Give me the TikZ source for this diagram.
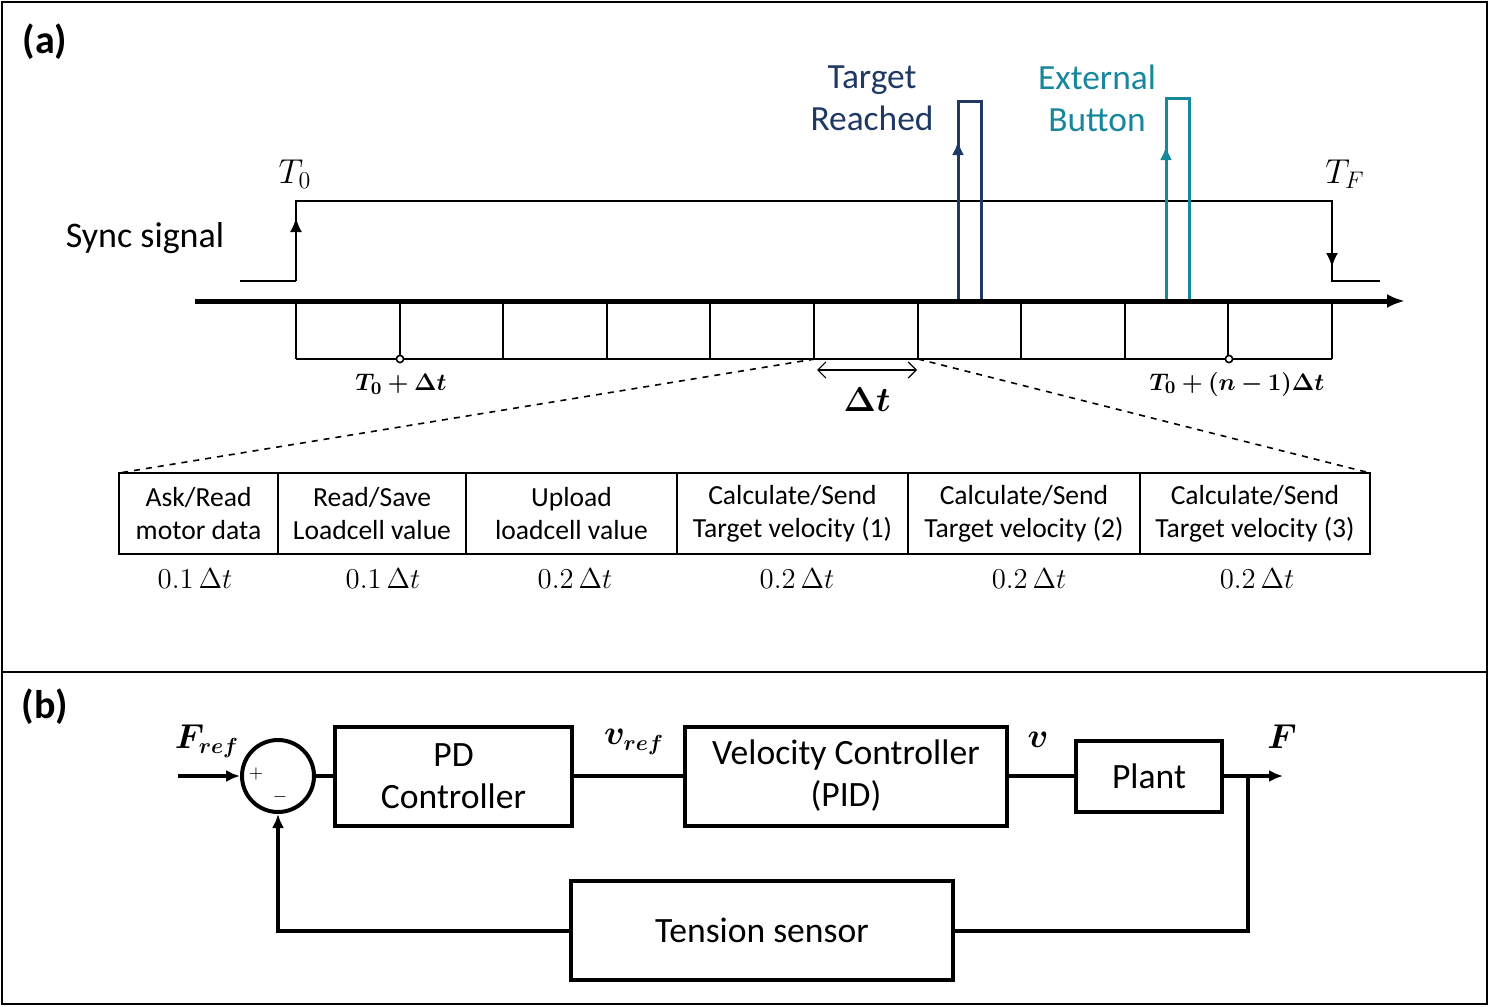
\documentclass[tikz,border=0pt]{standalone}
\usepackage{fontspec}
\setmainfont{Carlito}
\usepackage{amsmath}
\usepackage{bm}
\usetikzlibrary{arrows.meta,positioning}
\definecolor{pulsenavy}{HTML}{1F3864}
\definecolor{pulseteal}{HTML}{17879B}
\tikzset{
	panel/.style={font=\bfseries\fontsize{20}{24}\selectfont},
	celltext/.style={align=center, font=\fontsize{13.8}{16.5}\selectfont},
	share/.style={font=\fontsize{14}{16}\selectfont},
	block/.style={draw, line width=2pt, align=center, inner sep=0pt, font=\fontsize{17.8}{21}\selectfont},
	sig/.style={font=\fontsize{17}{20}\selectfont},
	pulse/.style={line width=1.5pt},
	wire/.style={line width=2pt},
}
\begin{document}
\begin{tikzpicture}[x=0.5pt, y=-0.5pt]
		\useasboundingbox (0,0) rectangle (1490,1007);
		\draw[line width=1pt]	(2,2) rectangle (1487,1004)
								(2,672) to (1487,672);
		\node[panel] (pa) at (45,42) {(a)};
		\node[panel] (pb) at (45,707) {(b)};

		\draw[-, black, line width=1pt]	(240,281) to (296,281);
		\draw[-{Latex[length=7pt,width=6pt]}, black, line width=1pt]	(296,281) to (296,218);
		\draw[-, black, line width=1pt]	(296,222) to (296,201) to (1332,201) to (1332,256);
		\draw[-{Latex[length=7pt,width=6pt]}, black, line width=1pt]	(1332,240) to (1332,267);
		\draw[-, black, line width=1pt]	(1332,262) to (1332,281) to (1380,281);

		\node[font=\fontsize{18}{21}\selectfont] (sync) at (145,238) {Sync signal};
		\node[sig] (t0) at (295,174) {$T_0$};
		\node[sig] (tf) at (1345,174) {$T_F$};

		\draw[-, pulsenavy, pulse]	(958,150) to (958,101) to (981,101) to (981,301);
		\draw[-{Latex[length=7pt,width=6pt]}, pulsenavy, pulse]	(958,301) to (958,141);
		\draw[-, pulseteal, pulse]	(1166,155) to (1166,98) to (1189,98) to (1189,301);
		\draw[-{Latex[length=7pt,width=6pt]}, pulseteal, pulse]	(1166,301) to (1166,146);
		\node[align=center, text=pulsenavy, font=\fontsize{17.7}{21}\selectfont] (reached) at (872,98) {Target\\Reached};
		\node[align=center, text=pulseteal, font=\fontsize{17.7}{21}\selectfont] (button) at (1097,98) {External\\Button};

		\draw[-{Latex[length=9pt,width=7pt]}, black, line width=2.5pt]	(195,301) to (1405,301);
		\draw[black, line width=1pt]	(296,359) to (1332,359);
		\foreach \i in {0,...,10}
			\draw[black, line width=1pt]	(296+\i*103.6,302) to (296+\i*103.6,359);
		\filldraw[fill=white, line width=0.8pt]	(400,359) circle (1.8pt)
												(1229,359) circle (1.8pt);
		\node[font=\fontsize{13}{16}\selectfont] (tone) at (401,384) {$\bm{T_0+\Delta t}$};
		\node[font=\fontsize{13}{16}\selectfont] (tlast) at (1237,384) {$\bm{T_0+(n-1)\Delta t}$};

		\draw[{Straight Barb[length=4pt,width=8pt]}-{Straight Barb[length=4pt,width=8pt]}, line width=0.6pt]	(817,370) to (917,370);
		\node[font=\fontsize{17}{20}\selectfont] (dt) at (867,400) {$\bm{\Delta t}$};

		\draw[dashed, line width=0.8pt]	(815,359) to (119,473)
										(918,359) to (1370,473);

		\draw[line width=1pt]	(119,473) rectangle (1370,554);
		\foreach \x in {278,466,677,908,1140}
			\draw[line width=1pt]	(\x,473) to (\x,554);
		\node[celltext] (ask) at (198.5,514) {Ask/Read\\motor data};
		\node[celltext] (save) at (372,514) {Read/Save\\Loadcell value};
		\node[celltext] (upload) at (571.5,514) {Upload\\loadcell value};
		\node[celltext] (calcone) at (792.5,514) {Calculate/Send\\Target velocity (1)};
		\node[celltext] (calctwo) at (1024,514) {Calculate/Send\\Target velocity (2)};
		\node[celltext] (calcthree) at (1255,514) {Calculate/Send\\Target velocity (3)};
		\node[share] at (195,579) {$0.1\,\Delta t$};
		\node[share] at (383,579) {$0.1\,\Delta t$};
		\node[share] at (575,579) {$0.2\,\Delta t$};
		\node[share] at (797,579) {$0.2\,\Delta t$};
		\node[share] at (1029,579) {$0.2\,\Delta t$};
		\node[share] at (1257,579) {$0.2\,\Delta t$};

		\node[draw, circle, line width=2pt, minimum size=36pt, inner sep=0pt] (sum) at (278,776) {};
		\node[font=\fontsize{9}{10}\selectfont] (plus) at (256,774) {$+$};
		\node[font=\fontsize{9}{10}\selectfont] (minus) at (280,797) {$-$};
		\node[block, minimum width=118.5pt, minimum height=49.5pt] (pd) at (453.5,776) {PD\\Controller};
		\node[block, minimum width=161pt, minimum height=49.5pt] (vel) at (846,776) {Velocity Controller\\(PID)};
		\node[block, minimum width=73pt, minimum height=35.5pt] (plant) at (1149,776) {Plant};
		\node[block, minimum width=191pt, minimum height=49.5pt] (tension) at (762,930.5) {Tension sensor};

		\coordinate (in) at (178,776);
		\coordinate (out) at (1283,776);
		\coordinate (branch) at (1248,776);

		\draw[-{Latex[length=7pt,width=6pt]}, wire]	(in) to (sum.west);
		\draw[-, wire]	(sum) to (pd);
		\draw[-, wire]	(pd) to (vel);
		\draw[-, wire]	(vel) to (plant);
		\draw[-{Latex[length=7pt,width=6pt]}, wire]	(plant) to (out);
		\draw[-, wire]	(branch) |- (tension.east);
		\draw[-{Latex[length=7pt,width=6pt]}, wire]	(tension.west) -| (sum.south);

		\node[font=\fontsize{16}{19}\selectfont] (fref) at (207,741) {$\bm{F_{ref}}$};
		\node[font=\fontsize{16}{19}\selectfont] (vref) at (634,742) {$\bm{v_{ref}}$};
		\node[font=\fontsize{16}{19}\selectfont] (vout) at (1038,740) {$\bm{v}$};
		\node[font=\fontsize{16}{19}\selectfont] (fout) at (1282,737) {$\bm{F}$};
	\end{tikzpicture}
\end{document}
